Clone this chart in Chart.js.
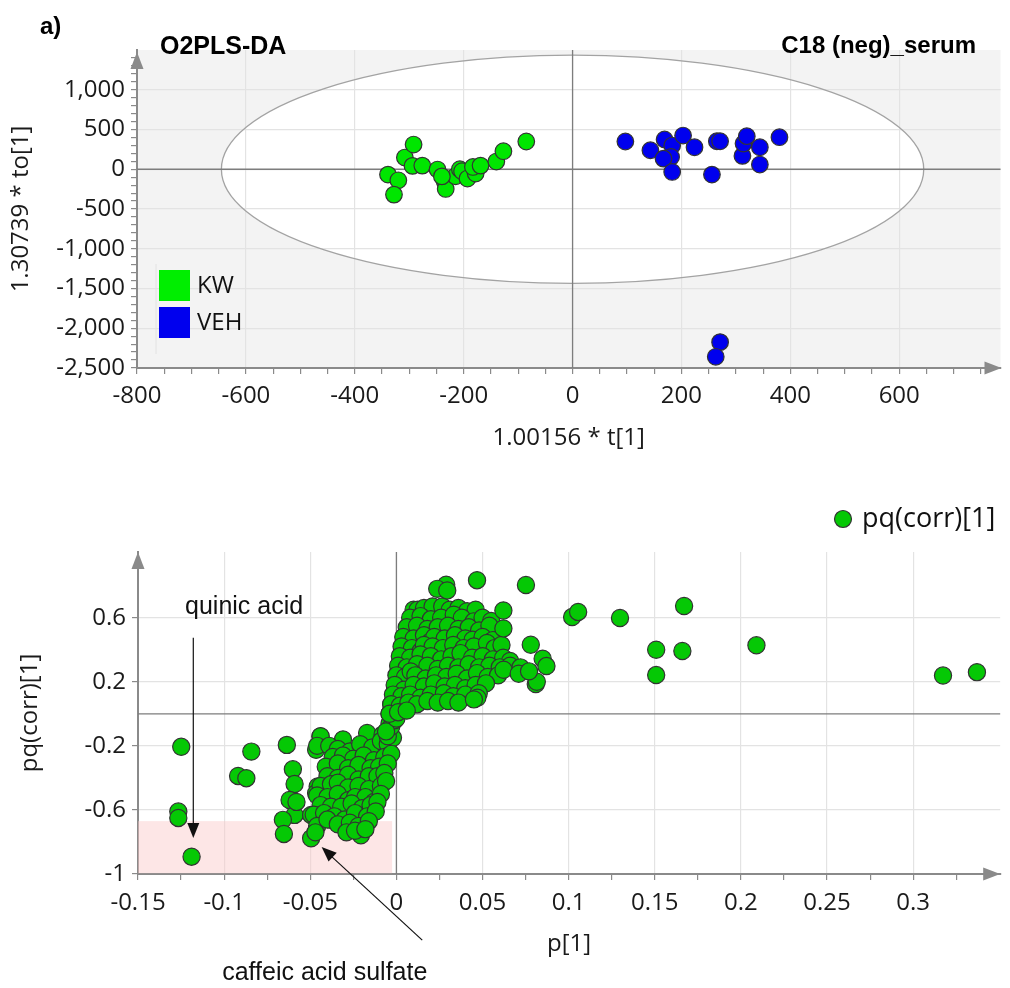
<!DOCTYPE html>
<html><head><meta charset="utf-8">
<script src="https://cdn.jsdelivr.net/npm/chart.js@4.4.0/dist/chart.umd.min.js"></script>
<style>
html,body{margin:0;padding:0;background:#fff;width:1010px;height:988px;overflow:hidden;}
#c1{position:absolute;left:0;top:0;}
#c2{position:absolute;left:0;top:450px;}
.t{position:absolute;font-family:"Liberation Sans",Arial,sans-serif;font-weight:bold;font-size:24px;color:#000;white-space:nowrap;z-index:5;}
</style></head><body>
<canvas id="c1" width="1010" height="450"></canvas>
<canvas id="c2" width="1010" height="538"></canvas>
<div class="t" style="left:40px;top:12px">a)</div>
<div class="t" style="left:160px;top:31px;font-size:25px">O2PLS-DA</div>
<div class="t" style="right:34px;top:31px">C18 (neg)_serum</div>
<script>
// ---------- Top chart: score plot ----------
const kwT  = [-339,-320,-328,-308,-292,-294,-276,-248,-235,-233,-215,-207,-203,-193,-178,-183,-169,-140,-127,-85,-240];
const kwTo = [-67,-139,-319,147,311,42,46,-4,-151,-248,-88,0,-25,-117,-54,29,46,97,227,349,-90];
const vehT  = [97,143,169,183,181,167,183,203,224,265,271,256,312,314,320,344,344,380,271,263];
const vehTo = [349,239,374,298,155,134,-34,424,277,352,352,-67,168,323,416,277,59,403,-2175,-2359];
const topXTicks = [-800,-600,-400,-200,0,200,400,600];
const topYTicks = [-2500,-2000,-1500,-1000,-500,0,500,1000];
const topXMinorStep = 50, topYMinorStep = 100;
const ellipseT = 645, ellipseTo = 1435;   // Hotelling T2 ellipse radii

// ---------- Bottom chart: S-plot ----------
const leftOutliers = [[-0.1249,-0.206],[-0.1266,-0.610],[-0.1266,-0.650],[-0.1189,-0.892],[-0.0919,-0.388],[-0.0871,-0.402],[-0.0842,-0.236],
 [-0.0636,-0.194],[-0.0601,-0.346],[-0.0591,-0.438],[-0.0620,-0.538],[-0.0591,-0.631],[-0.0659,-0.662],[-0.0653,-0.750],[-0.0580,-0.550],
 [-0.0495,-0.777],[-0.0495,-0.631],[-0.0457,-0.454],[-0.0466,-0.496],[-0.0441,-0.142],[-0.0466,-0.225],[-0.0206,-0.758],[-0.0380,-0.662]];
const rightOutliers = [[0.0468,0.834],[0.0752,0.804],[0.0289,0.806],[0.0237,0.780],[0.0295,0.770],[0.0621,0.645],[0.0621,0.533],[0.0780,0.431],
 [0.0849,0.344],[0.0871,0.298],[0.0809,0.186],[0.0815,0.200],[0.0710,0.250],[0.0770,0.265],[0.1020,0.604],[0.1055,0.636],[0.1298,0.598],
 [0.1670,0.673],[0.1508,0.400],[0.1660,0.392],[0.1508,0.242],[0.2090,0.428],[0.3173,0.239],[0.3370,0.260]];
const negCluster = [[-0.044,-0.14],[-0.031,-0.16],[-0.017,-0.12],[-0.008,-0.13],[-0.004,-0.10],
 [-0.046,-0.20],[-0.039,-0.20],[-0.034,-0.22],[-0.027,-0.235],[-0.021,-0.19],[-0.014,-0.21],[-0.009,-0.17],[-0.005,-0.19],[-0.002,-0.15],
 [-0.037,-0.27],[-0.031,-0.26],[-0.025,-0.28],[-0.019,-0.26],[-0.013,-0.29],[-0.007,-0.27],[-0.003,-0.25],
 [-0.041,-0.33],[-0.034,-0.31],[-0.028,-0.34],[-0.022,-0.32],[-0.015,-0.34],[-0.010,-0.33],[-0.005,-0.31],
 [-0.040,-0.39],[-0.034,-0.40],[-0.028,-0.38],[-0.022,-0.41],[-0.016,-0.39],[-0.011,-0.39],[-0.007,-0.37],
 [-0.044,-0.45],[-0.038,-0.44],[-0.034,-0.43],[-0.028,-0.46],[-0.022,-0.45],[-0.016,-0.47],[-0.009,-0.45],[-0.006,-0.42],
 [-0.046,-0.51],[-0.040,-0.52],[-0.034,-0.50],[-0.028,-0.54],[-0.024,-0.52],[-0.018,-0.52],[-0.013,-0.55],[-0.009,-0.50],
 [-0.044,-0.57],[-0.038,-0.58],[-0.032,-0.58],[-0.026,-0.56],[-0.020,-0.59],[-0.015,-0.57],[-0.011,-0.55],
 [-0.048,-0.63],[-0.042,-0.62],[-0.036,-0.64],[-0.030,-0.66],[-0.024,-0.62],[-0.017,-0.64],[-0.012,-0.61],
 [-0.046,-0.70],[-0.040,-0.66],[-0.034,-0.69],[-0.027,-0.68],[-0.022,-0.70],[-0.016,-0.67],
 [-0.047,-0.74],[-0.029,-0.74],[-0.024,-0.73],[-0.018,-0.72]];
const originBand = [[-0.005,-0.14],[-0.004,-0.06],[-0.003,-0.08],[-0.002,-0.02],[-0.001,-0.04],[0.000,0.03],[0.001,0.10],
 [0.002,0.06],[0.003,0.14],[-0.006,-0.11],[-0.004,0.00],[0.000,-0.03],[0.002,0.20],[-0.003,0.06]];
const posCluster = [[0.010,0.65],[0.0123,0.65],[0.016,0.66],[0.021,0.67],[0.0266,0.67],[0.031,0.65],[0.036,0.66],[0.041,0.64],[0.046,0.65],
 [0.008,0.60],[0.014,0.61],[0.020,0.59],[0.026,0.60],[0.0333,0.619],[0.038,0.60],[0.0449,0.577],[0.050,0.60],[0.055,0.58],
 [0.006,0.54],[0.012,0.55],[0.018,0.53],[0.024,0.54],[0.030,0.55],[0.036,0.53],[0.042,0.54],[0.048,0.52],[0.054,0.55],
 [0.004,0.48],[0.010,0.47],[0.016,0.49],[0.0198,0.452],[0.022,0.48],[0.028,0.47],[0.034,0.49],[0.040,0.47],[0.0443,0.4625],[0.050,0.48],[0.056,0.46],
 [0.003,0.42],[0.009,0.41],[0.014,0.39],[0.016,0.43],[0.021,0.42],[0.027,0.41],[0.033,0.43],[0.039,0.41],[0.045,0.42],[0.0526,0.442],[0.057,0.41],[0.061,0.43],
 [0.002,0.36],[0.008,0.35],[0.014,0.37],[0.020,0.36],[0.026,0.34],[0.032,0.36],[0.0372,0.379],[0.044,0.35],[0.050,0.36],[0.056,0.34],[0.062,0.35],[0.066,0.33],
 [0.001,0.30],[0.006,0.29],[0.012,0.31],[0.018,0.30],[0.024,0.28],[0.030,0.30],[0.036,0.29],[0.042,0.31],[0.048,0.29],[0.054,0.30],[0.060,0.29],[0.066,0.30],[0.072,0.29],
 [0.000,0.24],[0.005,0.23],[0.0083,0.264],[0.011,0.24],[0.017,0.22],[0.023,0.24],[0.029,0.23],[0.035,0.25],[0.041,0.22],[0.0468,0.254],[0.053,0.23],[0.059,0.24],[0.0622,0.275],
 [-0.001,0.18],[0.0044,0.15],[0.010,0.18],[0.016,0.17],[0.022,0.19],[0.028,0.17],[0.034,0.18],[0.040,0.16],[0.046,0.18],[0.052,0.19],
 [-0.002,0.12],[0.003,0.11],[0.008,0.12],[0.014,0.10],[0.020,0.12],[0.0276,0.129],[0.033,0.11],[0.040,0.12],[0.0478,0.129],[0.047,0.10],
 [-0.003,0.06],[0.002,0.05],[0.007,0.07],[0.012,0.06],[0.018,0.08],[0.024,0.07],[0.030,0.08],[0.036,0.07],[0.045,0.09],
 [-0.004,0.00],[0.001,0.01],[0.006,0.02]];
const botXTicks = [-0.15,-0.1,-0.05,0,0.05,0.1,0.15,0.2,0.25,0.3];
const botYTicks = [-1,-0.6,-0.2,0.2,0.6];
const botXMinorStep = 0.025;
const highlightBox = {x0:-0.15, x1:-0.0025, y0:-0.995, y1:-0.67};

const FONT = '"Open Sans", "Noto Sans", sans-serif';
const FS = 24;
const GRID = '#e3e3e3', AXIS = '#8a8a8a', ZERO = '#7d7d7d';

function minorTicks(min, max, step){
  const out=[]; const n=Math.round((max-min)/step);
  for(let i=0;i<=n;i++){ out.push(Math.round((min+i*step)*1e6)/1e6); }
  return out;
}
const isIn = (arr,v)=>arr.some(a=>Math.abs(a-v)<1e-9);

function arrowHead(ctx, x1,y1,x2,y2,len,hw,color){
  const a=Math.atan2(y2-y1,x2-x1);
  ctx.save(); ctx.fillStyle=color; ctx.beginPath();
  ctx.moveTo(x2,y2);
  ctx.lineTo(x2-len*Math.cos(a)+hw*Math.sin(a), y2-len*Math.sin(a)-hw*Math.cos(a));
  ctx.lineTo(x2-len*Math.cos(a)-hw*Math.sin(a), y2-len*Math.sin(a)+hw*Math.cos(a));
  ctx.closePath(); ctx.fill(); ctx.restore();
}

// ===== Top chart =====
const topPlugin = {
  id:'topDeco',
  beforeDraw(chart){
    const {ctx, chartArea:a, scales:{x,y}} = chart;
    ctx.save();
    ctx.fillStyle='#f3f3f3'; ctx.fillRect(a.left,a.top,a.right-a.left,a.bottom-a.top);
    const cx=x.getPixelForValue(0), cy=y.getPixelForValue(0);
    const rx=x.getPixelForValue(ellipseT)-cx, ry=cy-y.getPixelForValue(ellipseTo);
    ctx.beginPath(); ctx.ellipse(cx,cy,rx,ry,0,0,Math.PI*2); ctx.fillStyle='#fff'; ctx.fill();
    ctx.restore();
  },
  beforeDatasetsDraw(chart){
    const {ctx, chartArea:a, scales:{x,y}} = chart;
    ctx.save();
    const cx=x.getPixelForValue(0), cy=y.getPixelForValue(0);
    const rx=x.getPixelForValue(ellipseT)-cx, ry=cy-y.getPixelForValue(ellipseTo);
    ctx.beginPath(); ctx.ellipse(cx,cy,rx,ry,0,0,Math.PI*2); ctx.strokeStyle='#a3a3a3'; ctx.lineWidth=1.3; ctx.stroke();
    ctx.strokeStyle=ZERO; ctx.lineWidth=1.3;
    ctx.beginPath(); ctx.moveTo(cx,a.top); ctx.lineTo(cx,a.bottom); ctx.stroke();
    ctx.beginPath(); ctx.moveTo(a.left,cy); ctx.lineTo(a.right,cy); ctx.stroke();
    ctx.restore();
  },
  afterDraw(chart){
    const {ctx, chartArea:a} = chart;
    arrowHead(ctx, a.left, a.bottom, a.right+1, a.bottom, 17, 6.5, AXIS);
    arrowHead(ctx, a.left, a.bottom, a.left, a.top+2, 17, 6.5, AXIS);
    // legend
    ctx.save();
    const lx=a.left+22, ly=a.bottom-98;
    ctx.strokeStyle='#e2e2e2'; ctx.lineWidth=1; ctx.beginPath(); ctx.moveTo(lx-3,ly-6); ctx.lineTo(lx-3,ly+84); ctx.stroke();
    chart.data.datasets.forEach((ds,i)=>{
      ctx.fillStyle=ds.legendColor; ctx.fillRect(lx, ly+i*37, 31, 31);
      ctx.fillStyle='#111'; ctx.font=FS+'px '+FONT; ctx.textBaseline='middle';
      ctx.fillText(ds.label, lx+38, ly+i*37+16);
    });
    ctx.restore();
  }
};

new Chart(document.getElementById('c1'), {
  type:'scatter',
  data:{datasets:[
    {label:'KW', data:kwT.map((v,i)=>({x:v,y:kwTo[i]})), backgroundColor:'#00e600', legendColor:'#00ee00', borderColor:'#333', borderWidth:1.2, pointRadius:8.3},
    {label:'VEH', data:vehT.map((v,i)=>({x:v,y:vehTo[i]})), backgroundColor:'#0000ee', legendColor:'#0000ee', borderColor:'#333', borderWidth:1.2, pointRadius:8.3}
  ]},
  options:{
    responsive:false, animation:false, devicePixelRatio:1,
    layout:{padding:{top:50,right:0,left:0,bottom:0}},
    plugins:{legend:{display:false}, tooltip:{enabled:false}},
    scales:{
      x:{type:'linear', min:-800, max:786,
        afterBuildTicks:s=>{s.ticks=minorTicks(-800,750,topXMinorStep).map(v=>({value:v}));},
        afterFit:s=>{s.height=82;},
        ticks:{autoSkip:false, maxRotation:0, padding:8, color:'#1a1a1a', font:{family:FONT,size:FS},
          callback:v=>isIn(topXTicks,v)?v.toLocaleString('en-US'):''},
        grid:{color:c=>isIn(topXTicks,c.tick.value)?GRID:'rgba(0,0,0,0)', tickColor:AXIS, tickLength:6, lineWidth:1.2},
        border:{color:AXIS, width:2},
        title:{display:true, text:'1.00156 * t[1]', color:'#1a1a1a', font:{family:FONT,size:FS,lineHeight:1}, padding:{top:0,bottom:0}}
      },
      y:{type:'linear', min:-2500, max:1500,
        afterBuildTicks:s=>{s.ticks=minorTicks(-2500,1400,topYMinorStep).map(v=>({value:v}));},
        afterFit:s=>{s.width=137;},
        ticks:{autoSkip:false, padding:6, color:'#1a1a1a', font:{family:FONT,size:FS},
          callback:v=>isIn(topYTicks,v)?v.toLocaleString('en-US'):''},
        grid:{color:c=>isIn(topYTicks,c.tick.value)?GRID:'rgba(0,0,0,0)', tickColor:AXIS, tickLength:6, lineWidth:1.2},
        border:{color:AXIS, width:2},
        title:{display:true, text:'1.30739 * to[1]', color:'#1a1a1a', font:{family:FONT,size:FS,lineHeight:1}, padding:{top:9,bottom:0}}
      }
    }
  },
  plugins:[topPlugin]
});

// ===== Bottom chart =====
const splotData = [...leftOutliers, ...negCluster, ...originBand, ...posCluster, ...rightOutliers].map(p=>({x:p[0], y:p[1]}));

const botPlugin = {
  id:'botDeco',
  beforeDatasetsDraw(chart){
    const {ctx, chartArea:a, scales:{x,y}} = chart;
    ctx.save();
    ctx.fillStyle='rgba(250,200,200,0.45)';
    const px0=x.getPixelForValue(highlightBox.x0), px1=x.getPixelForValue(highlightBox.x1);
    const py0=y.getPixelForValue(highlightBox.y1), py1=y.getPixelForValue(highlightBox.y0);
    ctx.fillRect(px0,py0,px1-px0,py1-py0);
    const cx=x.getPixelForValue(0), cy=y.getPixelForValue(0);
    ctx.strokeStyle=ZERO; ctx.lineWidth=1.3;
    ctx.beginPath(); ctx.moveTo(cx,a.top); ctx.lineTo(cx,a.bottom); ctx.stroke();
    ctx.beginPath(); ctx.moveTo(a.left,cy); ctx.lineTo(a.right,cy); ctx.stroke();
    ctx.restore();
  },
  afterDraw(chart){
    const {ctx, chartArea:a, scales:{x,y}} = chart;
    arrowHead(ctx, a.left, a.bottom, a.right, a.bottom, 17, 6.5, AXIS);
    arrowHead(ctx, a.left, a.bottom, a.left, a.top, 17, 6.5, AXIS);
    ctx.save();
    // annotations
    ctx.fillStyle='#111'; ctx.font='25px "Liberation Sans", Arial, sans-serif';
    ctx.textAlign='center'; ctx.textBaseline='middle';
    ctx.fillText('quinic acid', x.getPixelForValue(-0.0884), y.getPixelForValue(0.669));
    ctx.fillText('caffeic acid sulfate', x.getPixelForValue(-0.0416), y.getPixelForValue(-1.619));
    ctx.strokeStyle='#111'; ctx.lineWidth=1.2;
    const q0=[x.getPixelForValue(-0.1179), y.getPixelForValue(0.475)], q1=[x.getPixelForValue(-0.1179), y.getPixelForValue(-0.775)];
    ctx.beginPath(); ctx.moveTo(q0[0],q0[1]); ctx.lineTo(q1[0],q1[1]-8); ctx.stroke();
    arrowHead(ctx, q0[0],q0[1], q1[0],q1[1], 15, 6, '#111');
    const c0=[x.getPixelForValue(0.0150), y.getPixelForValue(-1.4125)], c1=[x.getPixelForValue(-0.0434), y.getPixelForValue(-0.831)];
    ctx.beginPath(); ctx.moveTo(c0[0],c0[1]); ctx.lineTo(c1[0]+6,c1[1]+6); ctx.stroke();
    arrowHead(ctx, c0[0],c0[1], c1[0],c1[1], 15, 6, '#111');
    // legend
    const ds=chart.data.datasets[0];
    ctx.beginPath(); ctx.arc(843, 69, 8.5, 0, Math.PI*2); ctx.fillStyle=ds.backgroundColor; ctx.fill();
    ctx.strokeStyle='#333'; ctx.lineWidth=1.2; ctx.stroke();
    ctx.fillStyle='#111'; ctx.font='27px '+FONT; ctx.textAlign='left'; ctx.textBaseline='middle';
    ctx.fillText(ds.label, 862, 69);
    ctx.restore();
  }
};

new Chart(document.getElementById('c2'), {
  type:'scatter',
  data:{datasets:[{label:'pq(corr)[1]', data:splotData, backgroundColor:'#05c805', borderColor:'#333', borderWidth:1.2, pointRadius:8.6}]},
  options:{
    responsive:false, animation:false, devicePixelRatio:1,
    layout:{padding:{top:102,right:8,left:0,bottom:0}},
    plugins:{legend:{display:false}, tooltip:{enabled:false}},
    scales:{
      x:{type:'linear', min:-0.15, max:0.3505,
        afterBuildTicks:s=>{s.ticks=minorTicks(-0.15,0.325,botXMinorStep).map(v=>({value:v}));},
        afterFit:s=>{s.height=114;},
        ticks:{autoSkip:false, maxRotation:0, padding:9, color:'#1a1a1a', font:{family:FONT,size:FS},
          callback:v=>isIn(botXTicks,v)?String(v):''},
        grid:{color:c=>isIn(botXTicks,c.tick.value)?GRID:'rgba(0,0,0,0)', tickColor:AXIS, tickLength:6, lineWidth:1.2},
        border:{color:AXIS, width:2},
        title:{display:true, text:'p[1]', color:'#1a1a1a', font:{family:FONT,size:FS,lineHeight:1}, padding:{top:0,bottom:32}}
      },
      y:{type:'linear', min:-1, max:1.01,
        afterBuildTicks:s=>{s.ticks=botYTicks.map(v=>({value:v}));},
        afterFit:s=>{s.width=138;},
        ticks:{autoSkip:false, padding:6, color:'#1a1a1a', font:{family:FONT,size:FS}, callback:v=>String(v)},
        grid:{color:GRID, tickColor:AXIS, tickLength:6, lineWidth:1.2},
        border:{color:AXIS, width:2},
        title:{display:true, text:'pq(corr)[1]', color:'#1a1a1a', font:{family:FONT,size:FS,lineHeight:1}, padding:{top:18,bottom:0}}
      }
    }
  },
  plugins:[botPlugin]
});
</script>
</body></html>
